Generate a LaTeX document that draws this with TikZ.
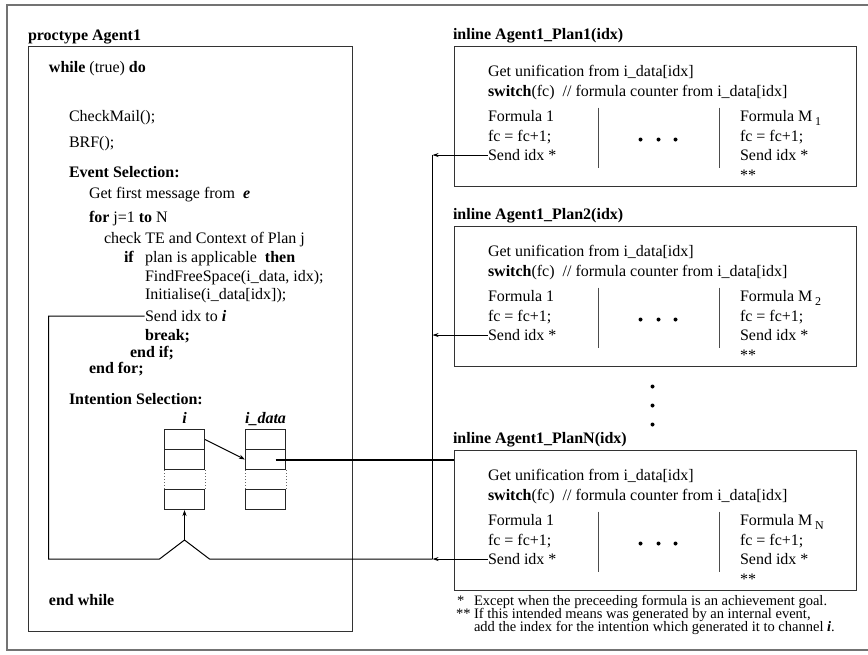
\documentclass[tikz,border=0pt]{standalone}
\usepackage{fontspec}
\setmainfont{Liberation Serif}
\usetikzlibrary{positioning,arrows.meta,calc}

\tikzset{
  txt/.style={anchor=base west, inner sep=0pt, font=\fontsize{16}{19}\selectfont},
  hdr/.style={txt, font=\fontsize{16}{19}\selectfont\bfseries},
  note/.style={anchor=base west, inner sep=0pt, font=\fontsize{14.5}{17}\selectfont},
  frame/.style={draw=black!80, inner sep=0pt, anchor=north west},
  cell/.style={draw=black!85, minimum width=40pt, minimum height=20pt, inner sep=0pt},
  tip/.style={-{Stealth[length=6pt,width=4pt]}},
}
\newcommand{\bi}[1]{\textbf{\textit{#1}}}

\begin{document}
\begin{tikzpicture}[x=1pt,y=-1pt,line width=1pt]
\clip (-0.5,-0.5) rectangle (867.5,653.5);
\draw[draw=black!55, line width=2pt] (7,4) rectangle (880,649);

% the agent process
\node[hdr] (agentT) at (27,40) {proctype Agent1};
\node[frame, minimum width=324pt, minimum height=585pt] (agent) at (27,45) {};
\node[txt] (while) at (48,72) {\textbf{while} (true) \textbf{do}};
\node[txt] (mail) at (68,121) {CheckMail();};
\node[txt] (brf) at (68,147) {BRF();};
\node[hdr] (evsel) at (68,177) {Event Selection:};
\node[txt] (first) at (88,198) {Get first message from \ \bi{e}};
\node[txt] (for) at (88,222) {\textbf{for} j=1 \textbf{to} N};
\node[txt] (check) at (103,243) {check TE and Context of Plan j};
\node[hdr] (if) at (123,262) {if};
\node[txt] (cond) at (144,262) {plan is applicable \ \textbf{then}};
\node[txt] (find) at (144,281) {FindFreeSpace(i\_data, idx);};
\node[txt] (init) at (144,299) {Initialise(i\_data[idx]);};
\node[txt] (sendi) at (144,321) {Send idx to \bi{i}};
\node[hdr] (brk) at (144,340) {break;};
\node[hdr] (endif) at (129,357) {end if;};
\node[hdr] (endfor) at (88,373) {end for;};
\node[hdr] (intsel) at (68,404) {Intention Selection:};
\node[hdr] (endwhile) at (48,605) {end while};

% channel i and i_data
\node[cell] (i1) at (184,439) {};
\node[cell] (i2) at (184,459) {};
\node[cell] (i4) at (184,499) {};
\node[cell] (idata1) at (265,439) {};
\node[cell] (idata2) at (265,459) {};
\node[cell] (idata4) at (265,499) {};
\draw[dotted, black!60] (i2.south west) -- (i4.north west) (i2.south east) -- (i4.north east)
  (idata2.south west) -- (idata4.north west) (idata2.south east) -- (idata4.north east);
\node[hdr, above=6pt of i1, anchor=base] (ilab) {\textit{i}};
\node[hdr, above=6pt of idata1, anchor=base] (idatalab) {\textit{i\_data}};
\draw[tip] (i1.east) -- (idata2.west);

% the plans
\foreach \k/\t in {1/45, 2/225, N/449}{
  \node[hdr] (title\k) at (452,\t-6) {inline Agent1\_Plan\k(idx)};
  \node[frame, minimum width=402pt, minimum height=140pt] (plan\k) at (453,\t) {};
  \node[txt] (unif\k) at (487,\t+31) {Get unification from i\_data[idx]};
  \node[txt] (sw\k) at (487,\t+51) {\textbf{switch}(fc) \ // formula counter from i\_data[idx]};
  \node[txt] (fa\k) at (487,\t+76) {Formula 1};
  \node[txt] (fb\k) at (487,\t+96) {fc = fc+1;};
  \node[txt] (send\k) at (487,\t+115) {Send idx *};
  \node[txt] (ma\k) at (739,\t+76) {Formula M\,\raisebox{-4pt}{\fontsize{12}{12}\selectfont\k}};
  \node[txt] (mb\k) at (739,\t+96) {fc = fc+1;};
  \node[txt] (mc\k) at (739,\t+115) {Send idx *};
  \node[txt] (md\k) at (739,\t+135) {**};
  \draw[black!70] (598,\t+62) -- (598,\t+122) (719,\t+62) -- (719,\t+122);
  \foreach \x in {640,658,675}
    \fill (\x,\t+94) circle[radius=2pt];
}
\foreach \y in {386,405,424}
  \fill (652,\y) circle[radius=2pt];

% sends back to channel i
\coordinate (bus) at (432,0);
\coordinate (loopC) at (48,0 |- sendN.west);
\coordinate (footL) at (159,0 |- sendN.west);
\coordinate (footR) at (209,0 |- sendN.west);
\coordinate (apex) at ($(184,0 |- sendN.west)+(0,-19)$);
\draw (send1.west -| bus) -- (sendN.west -| bus);
\foreach \k in {1,2,N}
  \draw[tip] (send\k.west) -- (send\k.west -| bus);
\draw (sendi.west) -| (loopC) -- (footL) -- (apex) -- (footR) -- (sendN.west -| bus);
\draw[tip] (apex) -- (i4.south);
\draw[line width=2pt] ($(idata2.center)+(10,0)$) -- (idata2.center -| planN.west);

% footnotes
\node[note] (n1a) at (456,605) {*};
\node[note] (n1) at (473,605) {Except when the preceeding formula is an achievement goal.};
\node[note] (n2a) at (455,618) {**};
\node[note] (n2) at (473,618) {If this intended means was generated by an internal event,};
\node[note] (n3) at (473,631) {add the index for the intention which generated it to channel \bi{i}.};
\end{tikzpicture}
\end{document}
